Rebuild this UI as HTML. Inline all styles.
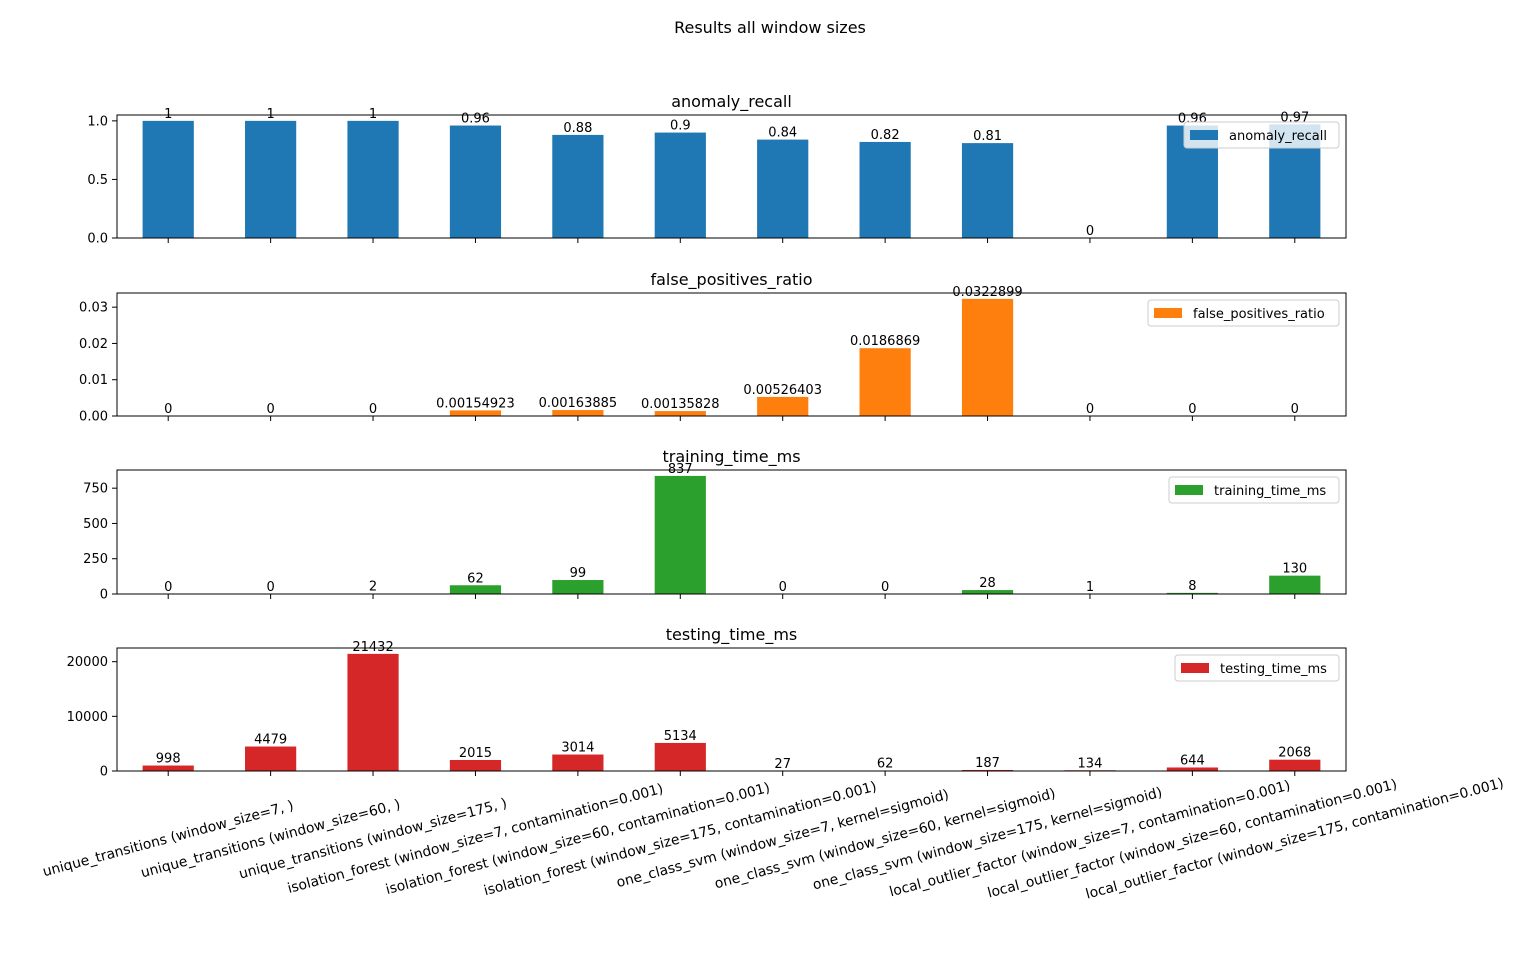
<!DOCTYPE html>
<html><head><meta charset="utf-8"><style>
body{margin:0;background:#fff;font-family:"DejaVu Sans","Liberation Sans",sans-serif;}
svg text{font-family:"DejaVu Sans","Liberation Sans",sans-serif;}
</style></head><body>
<svg id="fig" width="1540" height="961" viewBox="0 0 1540 961" xmlns="http://www.w3.org/2000/svg">
<rect width="1540" height="961" fill="#fff"/>
<text x="770" y="33" text-anchor="middle" font-size="16">Results all window sizes</text>
</svg>
<script>
const categories=["unique_transitions (window_size=7, )","unique_transitions (window_size=60, )","unique_transitions (window_size=175, )","isolation_forest (window_size=7, contamination=0.001)","isolation_forest (window_size=60, contamination=0.001)","isolation_forest (window_size=175, contamination=0.001)","one_class_svm (window_size=7, kernel=sigmoid)","one_class_svm (window_size=60, kernel=sigmoid)","one_class_svm (window_size=175, kernel=sigmoid)","local_outlier_factor (window_size=7, contamination=0.001)","local_outlier_factor (window_size=60, contamination=0.001)","local_outlier_factor (window_size=175, contamination=0.001)"];
const anomalyRecall=[1,1,1,0.96,0.88,0.9,0.84,0.82,0.81,0,0.96,0.97];
const anomalyRecallLabels=["1","1","1","0.96","0.88","0.9","0.84","0.82","0.81","0","0.96","0.97"];
const falsePositives=[0,0,0,0.00154923,0.00163885,0.00135828,0.00526403,0.0186869,0.0322899,0,0,0];
const falsePositivesLabels=["0","0","0","0.00154923","0.00163885","0.00135828","0.00526403","0.0186869","0.0322899","0","0","0"];
const trainingTime=[0,0,2,62,99,837,0,0,28,1,8,130];
const testingTime=[998,4479,21432,2015,3014,5134,27,62,187,134,644,2068];
const recallTicks=[0,0.5,1.0], recallTickLabels=["0.0","0.5","1.0"];
const fpTicks=[0,0.01,0.02,0.03], fpTickLabels=["0.00","0.01","0.02","0.03"];
const trainTicks=[0,250,500,750], trainTickLabels=["0","250","500","750"];
const testTicks=[0,10000,20000], testTickLabels=["0","10000","20000"];

const NS="http://www.w3.org/2000/svg";
const svg=document.getElementById('fig');
function mk(tag,attrs,parent){const e=document.createElementNS(NS,tag);for(const k in attrs)e.setAttribute(k,attrs[k]);(parent||svg).appendChild(e);return e;}
const L=117,R=1346;
const n=categories.length;
const step=(R-L)/n;
const xC=i=>L+step*(i+0.5);
const panels=[
 {name:"anomaly_recall",vals:anomalyRecall,labels:anomalyRecallLabels,ticks:recallTicks,tl:recallTickLabels,top:115,bot:238,color:"#1f77b4",legW:155},
 {name:"false_positives_ratio",vals:falsePositives,labels:falsePositivesLabels,ticks:fpTicks,tl:fpTickLabels,top:293,bot:416,color:"#ff7f0e",legW:191},
 {name:"training_time_ms",vals:trainingTime,labels:trainingTime.map(String),ticks:trainTicks,tl:trainTickLabels,top:470,bot:594,color:"#2ca02c",legW:170},
 {name:"testing_time_ms",vals:testingTime,labels:testingTime.map(String),ticks:testTicks,tl:testTickLabels,top:648,bot:771,color:"#d62728",legW:164}
];
panels.forEach((p,pi)=>{
 const g=mk('g',{});
 
 
 const ymax=Math.max(...p.vals)*1.05;
 const y=v=>p.bot-(v/ymax)*(p.bot-p.top);
 const bw=step*0.5;
 p.vals.forEach((v,i)=>{
  const r=mk('rect',{x:xC(i)-bw/2,y:y(v),width:bw,height:p.bot-y(v),fill:p.color},g);
  
  
  const t=mk('text',{x:xC(i),y:y(v)-3,'text-anchor':'middle','font-size':'13'},g);
  
  
  t.textContent=p.labels[i];
 });
 const fr=mk('rect',{x:L,y:p.top,width:R-L,height:p.bot-p.top,fill:'none',stroke:'#000','stroke-width':1},g);
 
 
 p.ticks.forEach((tv,k)=>{
  mk('line',{x1:L-5,x2:L,y1:y(tv),y2:y(tv),stroke:'#000'},g);
  const t=mk('text',{x:L-9,y:y(tv)+4.5,'text-anchor':'end','font-size':'13'},g);
  
  
  t.textContent=p.tl[k];
 });
 for(let i=0;i<n;i++) mk('line',{x1:xC(i),x2:xC(i),y1:p.bot,y2:p.bot+5,stroke:'#000'},g);
 const tt=mk('text',{x:(L+R)/2,y:p.top-8,'text-anchor':'middle','font-size':'16'},g);
 
 
 tt.textContent=p.name;
 const lg=mk('g',{},g);
 
 
 const lx=R-7-p.legW, ly=p.top+7;
 mk('rect',{x:lx,y:ly,width:p.legW,height:26,rx:3,fill:'rgba(255,255,255,0.8)',stroke:'#ccc'},lg);
 mk('rect',{x:lx+6,y:ly+8,width:28,height:10,fill:p.color},lg);
 const lt=mk('text',{x:lx+45,y:ly+18,'font-size':'13'},lg);
 lt.textContent=p.name;
});
categories.forEach((c,i)=>{
 const cx=xC(i), cy=839;
 const t=mk('text',{x:cx,y:cy,'text-anchor':'middle','dominant-baseline':'middle','font-size':'13.9',transform:`rotate(-15 ${cx} ${cy})`});
 
 
 t.textContent=c;
});
</script>
</body></html>
